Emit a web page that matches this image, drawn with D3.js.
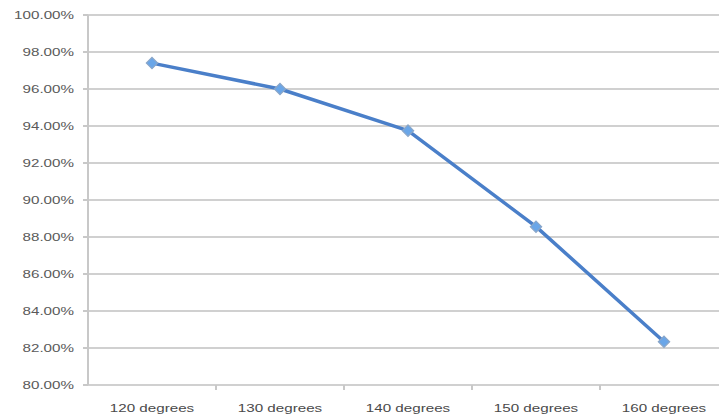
<!DOCTYPE html>
<html><head><meta charset="utf-8">
<script src="https://cdn.jsdelivr.net/npm/d3@7"></script>
<style>body{margin:0;background:#fff;}svg{display:block;}</style>
</head><body>
<svg id="c" width="719" height="420"></svg>
<script>
const categories = ["120 degrees","130 degrees","140 degrees","150 degrees","160 degrees"];
const values = [0.974, 0.960, 0.9375, 0.8856, 0.8234];
const yTicks = [0.80,0.82,0.84,0.86,0.88,0.90,0.92,0.94,0.96,0.98,1.00];

(function(){
const svg = d3.select("#c");
const mLeft = 88, mRight = 728, mTop = 15, mBottom = 385;
const x = d3.scaleBand().domain(categories).range([mLeft, mRight]);
const y = d3.scaleLinear().domain([0.80, 1.00]).range([mBottom, mTop]);
const fmt = d3.format(".2%");
const font = "Liberation Sans, Arial, sans-serif";

// gridlines
svg.append("g").selectAll("line").data(yTicks).join("line")
  .attr("x1", mLeft).attr("x2", mRight)
  .attr("y1", d => y(d)).attr("y2", d => y(d))
  .attr("stroke", "#d0d0d0").attr("stroke-width", 2);

// y axis line
svg.append("line").attr("x1", mLeft).attr("x2", mLeft).attr("y1", mTop).attr("y2", mBottom)
  .attr("stroke", "#c8c8c8").attr("stroke-width", 2);
// y tick marks
svg.append("g").selectAll("line").data(yTicks).join("line")
  .attr("x1", mLeft - 5).attr("x2", mLeft).attr("y1", d => y(d)).attr("y2", d => y(d))
  .attr("stroke", "#c8c8c8").attr("stroke-width", 2);

// y labels (horizontally stretched like the reference)
svg.append("g").selectAll("text").data(yTicks).join("text")
  .attr("transform", d => `translate(74,${y(d)}) scale(1.38,1)`)
  .attr("dy", "0.35em")
  .attr("text-anchor", "end")
  .attr("font-family", font).attr("font-size", 11)
  .attr("fill", "#5a5a5a").text(d => fmt(d));

// x axis tick marks at band boundaries
const bounds = categories.slice(1).map(c => x(c));
svg.append("g").selectAll("line").data(bounds).join("line")
  .attr("x1", d => d).attr("x2", d => d).attr("y1", mBottom).attr("y2", mBottom + 5)
  .attr("stroke", "#c8c8c8").attr("stroke-width", 2);

// x labels
svg.append("g").selectAll("text").data(categories).join("text")
  .attr("transform", d => `translate(${x(d) + x.bandwidth() / 2},408) scale(1.38,1)`)
  .attr("dy", "0.35em")
  .attr("text-anchor", "middle")
  .attr("font-family", font).attr("font-size", 11)
  .attr("fill", "#4a4a4a").text(d => d);

// line
const pts = categories.map((c, i) => [x(c) + x.bandwidth() / 2, y(values[i])]);
svg.append("path").datum(pts)
  .attr("d", d3.line())
  .attr("fill", "none").attr("stroke", "#4a7fc9").attr("stroke-width", 3.5)
  .attr("stroke-linejoin", "round");

// markers (diamonds)
svg.append("g").selectAll("path").data(pts).join("path")
  .attr("transform", d => `translate(${d[0]},${d[1]}) rotate(45)`)
  .attr("d", d3.symbol(d3.symbolSquare, 64))
  .attr("fill", "#6aa6e8").attr("stroke", "#8aa6c8").attr("stroke-width", 1.2);
})();
</script>
</body></html>
